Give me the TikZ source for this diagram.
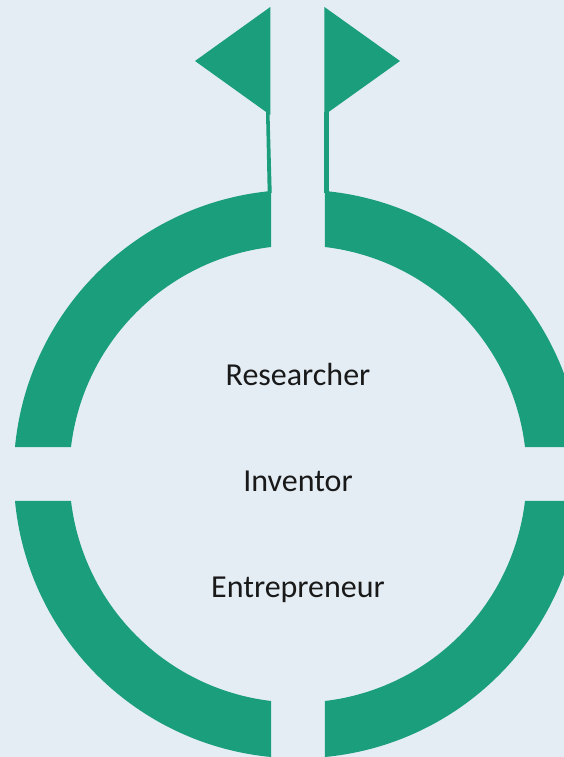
\documentclass[tikz,border=0pt]{standalone}
\usepackage{fontspec}
\setmainfont{Carlito}
\usepackage{xcolor}
\definecolor{panelblue}{RGB}{228,237,244}
\definecolor{flaggreen}{RGB}{26,158,124}

\begin{document}
\begin{tikzpicture}[x=0.75pt, y=0.75pt,
    flagpart/.style={fill=flaggreen},
    rolelabel/.style={anchor=base, font=\fontsize{24}{28}\selectfont, text=black!90}]
% Background
\path[use as bounding box, clip] (0,0) rectangle (564,757);
\fill[panelblue] (0,0) rectangle (564,757);

% Ring, four quarters
\foreach \a in {0,90,180,270} {
    \fill[flagpart, shift={(298,283)}] ({\a+5.45}:284.3)
        arc[start angle=\a+5.45, end angle=\a+84.55, radius=284.3]
        -- ({\a+83.22}:228.6)
        arc[start angle=\a+83.22, end angle=\a+6.78, radius=228.6] -- cycle;
}

% Left flag and stem
\fill[flagpart] (270.3,750) -- (195,696) -- (270.3,642) -- cycle;
\fill[flagpart] (266,645) -- (269.5,645) -- (271.7,564) -- (267.7,564) -- cycle;

% Right flag and stem
\fill[flagpart] (324.4,750) -- (400,696) -- (324.4,642) -- cycle;
\fill[flagpart] (324.4,645) -- (329,645) -- (329,564) -- (324.4,564) -- cycle;

% Labels
\node[rolelabel] (researcher) at (298,371) {Researcher};
\node[rolelabel] (inventor) at (298,265) {Inventor};
\node[rolelabel] (entrepreneur) at (298,159) {Entrepreneur};
\end{tikzpicture}
\end{document}
